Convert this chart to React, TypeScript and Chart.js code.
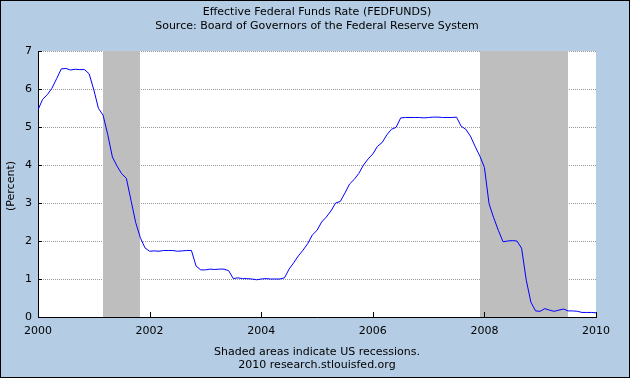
import React, { useEffect, useRef } from "react";
import { Chart, registerables } from "chart.js";

Chart.register(...registerables);

// Monthly effective federal funds rate, Jan 2000 .. Jan 2010 (percent)
const startYear = 2000;
const rates2000 = [5.45, 5.73, 5.85, 6.02, 6.27, 6.53, 6.54, 6.50, 6.52, 6.51, 6.51, 6.40];
const rates2001 = [5.98, 5.49, 5.31, 4.80, 4.21, 3.97, 3.77, 3.65, 3.07, 2.49, 2.09, 1.82];
const rates2002 = [1.73, 1.74, 1.73, 1.75, 1.75, 1.75, 1.73, 1.74, 1.75, 1.75, 1.34, 1.24];
const rates2003 = [1.24, 1.26, 1.25, 1.26, 1.26, 1.22, 1.01, 1.03, 1.01, 1.01, 1.00, 0.98];
const rates2004 = [1.00, 1.01, 1.00, 1.00, 1.00, 1.03, 1.26, 1.43, 1.61, 1.76, 1.93, 2.16];
const rates2005 = [2.28, 2.50, 2.63, 2.79, 3.00, 3.04, 3.26, 3.50, 3.62, 3.78, 4.00, 4.16];
const rates2006 = [4.29, 4.49, 4.59, 4.79, 4.94, 4.99, 5.24, 5.25, 5.25, 5.25, 5.25, 5.24];
const rates2007 = [5.25, 5.26, 5.26, 5.25, 5.25, 5.25, 5.26, 5.02, 4.94, 4.76, 4.49, 4.24];
const rates2008 = [3.94, 2.98, 2.61, 2.28, 1.98, 2.00, 2.01, 2.00, 1.81, 0.97, 0.39, 0.16];
const rates2009 = [0.15, 0.22, 0.18, 0.15, 0.18, 0.21, 0.16, 0.16, 0.15, 0.12, 0.12, 0.12];
const rates2010 = [0.11];

const rates = [
  ...rates2000, ...rates2001, ...rates2002, ...rates2003, ...rates2004,
  ...rates2005, ...rates2006, ...rates2007, ...rates2008, ...rates2009, ...rates2010,
];

// Recession periods (decimal years)
const recessionStarts = [2001.167, 2007.917];
const recessionEnds = [2001.833, 2009.5];

const xTicks = [2000, 2002, 2004, 2006, 2008, 2010];
const yTicks = [0, 1, 2, 3, 4, 5, 6, 7];

const titleLines = [
  "Effective Federal Funds Rate (FEDFUNDS)",
  "Source: Board of Governors of the Federal Reserve System",
];
const footerLines = ["Shaded areas indicate US recessions.", "2010 research.stlouisfed.org"];
const yAxisTitle = "(Percent)";

const FONT = '11px "DejaVu Sans", Verdana, sans-serif';
const BG = "#B4CDE4";

const decorPlugin = {
  id: "decor",
  beforeDraw(chart: any) {
    const { ctx, width, height, chartArea } = chart;
    ctx.save();
    ctx.fillStyle = BG;
    ctx.fillRect(0, 0, width, height);
    ctx.fillStyle = "#FFFFFF";
    ctx.fillRect(chartArea.left, chartArea.top, chartArea.right - chartArea.left, chartArea.bottom - chartArea.top);
    ctx.restore();
  },
  beforeDatasetsDraw(chart: any) {
    const { ctx, chartArea, scales } = chart;
    const x = scales.x;
    ctx.save();
    ctx.fillStyle = "#BEBEBE";
    for (let i = 0; i < recessionStarts.length; i++) {
      const x0 = Math.round(x.getPixelForValue(recessionStarts[i]));
      const x1 = Math.round(x.getPixelForValue(recessionEnds[i]));
      ctx.fillRect(x0, chartArea.top, x1 - x0, chartArea.bottom - chartArea.top);
    }
    ctx.restore();
  },
  afterDraw(chart: any) {
    const { ctx, width, height, chartArea, scales } = chart;
    ctx.save();
    // inward tick marks
    ctx.strokeStyle = "#000";
    ctx.lineWidth = 1;
    ctx.beginPath();
    for (const v of xTicks) {
      const px = Math.round(scales.x.getPixelForValue(v)) + 0.5;
      ctx.moveTo(px, chartArea.bottom);
      ctx.lineTo(px, chartArea.bottom - 5);
    }
    for (const v of yTicks) {
      const py = Math.round(scales.y.getPixelForValue(v)) + 0.5;
      ctx.moveTo(chartArea.left, py);
      ctx.lineTo(chartArea.left + 4, py);
    }
    ctx.stroke();

    // texts
    const cx = (chartArea.left + chartArea.right) / 2;
    ctx.fillStyle = "#000";
    ctx.font = FONT;
    ctx.textAlign = "center";
    ctx.textBaseline = "middle";
    ctx.fillText(titleLines[0], cx, 12);
    ctx.fillText(titleLines[1], cx, 26);
    ctx.fillText(footerLines[0], cx, 352);
    ctx.fillText(footerLines[1], cx, 365);

    ctx.save();
    ctx.translate(11, 186);
    ctx.rotate(-Math.PI / 2);
    ctx.fillText(yAxisTitle, 0, 0);
    ctx.restore();

    // outer border
    ctx.strokeStyle = "#000";
    ctx.strokeRect(0.5, 0.5, width - 1, height - 1);
    ctx.restore();
  },
};

export default function App() {
  const ref = useRef<HTMLCanvasElement | null>(null);

  useEffect(() => {
    if (!ref.current) return;
    const points = rates.map((v, i) => ({ x: startYear + i / 12, y: v }));
    const chart = new Chart(ref.current, {
      type: "line",
      data: {
        datasets: [
          {
            data: points,
            borderColor: "#0000FF",
            borderWidth: 1,
            pointRadius: 0,
            tension: 0,
            fill: false,
          },
        ],
      },
      options: {
        animation: false,
        responsive: false,
        devicePixelRatio: 1,
        layout: { padding: { top: 51, left: 0, right: 34, bottom: 0 } },
        plugins: {
          legend: { display: false },
          tooltip: { enabled: false },
          title: { display: false },
        },
        scales: {
          x: {
            type: "linear",
            min: 2000,
            max: 2010,
            afterFit: (s: any) => {
              s.height = 61;
            },
            afterBuildTicks: (s: any) => {
              s.ticks = xTicks.map((v) => ({ value: v }));
            },
            ticks: {
              color: "#000",
              font: { family: '"DejaVu Sans", Verdana, sans-serif', size: 11 },
              padding: 8,
              maxRotation: 0,
              autoSkip: false,
              callback: (v: any) => String(v),
            },
            grid: { display: false, drawTicks: false },
            border: { display: true, color: "#000", width: 1 },
          },
          y: {
            min: 0,
            max: 7,
            afterFit: (s: any) => {
              s.width = 38;
            },
            afterBuildTicks: (s: any) => {
              s.ticks = yTicks.map((v) => ({ value: v }));
            },
            ticks: {
              color: "#000",
              font: { family: '"DejaVu Sans", Verdana, sans-serif', size: 11 },
              padding: 6,
              callback: (v: any) => String(v),
            },
            grid: {
              display: true,
              drawTicks: false,
              color: "#999999",
              lineWidth: 1,
            },
            border: { display: true, color: "#000", width: 1, dash: [1, 1] },
          },
        },
      },
      plugins: [decorPlugin],
    });
    return () => chart.destroy();
  }, []);

  return (
    <div style={{ position: "fixed", left: 0, top: 0, width: 630, height: 378 }}>
      <canvas ref={ref} width={630} height={378} style={{ display: "block" }} />
    </div>
  );
}
